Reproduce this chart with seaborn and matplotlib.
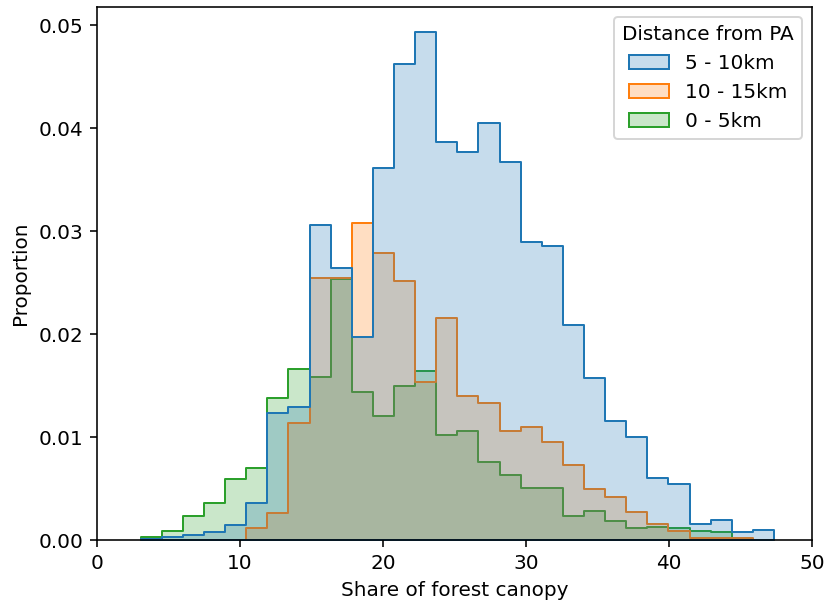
import numpy as np
import pandas as pd
import matplotlib
matplotlib.use("Agg")
import matplotlib.pyplot as plt
import seaborn as sns

# Bin layout (shared by all groups)
bin_start = 3.056
bin_end = 47.34
n_bins = 30

groups = ["5 - 10km", "10 - 15km", "0 - 5km"]

prop_5_10 = [0.0001, 0.0003, 0.0005, 0.0008, 0.00146, 0.00357, 0.01235, 0.0129,
             0.03067, 0.02642, 0.01977, 0.03618, 0.04627, 0.04938, 0.03874, 0.03771,
             0.04059, 0.03673, 0.02895, 0.02862, 0.02091, 0.01579, 0.01161, 0.00999,
             0.00606, 0.00542, 0.00156, 0.0019, 0.00073, 0.00095]
prop_10_15 = [0.0, 0.0, 0.0, 0.0, 0.0, 0.00114, 0.00258, 0.01135,
              0.02551, 0.02551, 0.03083, 0.02794, 0.02516, 0.0154, 0.02162, 0.014,
              0.01335, 0.0106, 0.01102, 0.00955, 0.00729, 0.00496, 0.00418, 0.00272,
              0.00153, 0.0009, 0.0002, 0.0002, 0.00015, 0.0]
prop_0_5 = [0.00026, 0.00088, 0.00233, 0.0036, 0.0059, 0.00703, 0.01378, 0.01663,
            0.01588, 0.02535, 0.01436, 0.01209, 0.01501, 0.01644, 0.01024, 0.0106,
            0.00759, 0.00635, 0.00506, 0.00509, 0.00236, 0.00279, 0.00188, 0.0012,
            0.00129, 0.00114, 0.00085, 0.00075, 0.0, 0.0]

edges = np.linspace(bin_start, bin_end, n_bins + 1)
centers = (edges[:-1] + edges[1:]) / 2

rows = []
for g, vals in zip(groups, [prop_5_10, prop_10_15, prop_0_5]):
    for c, v in zip(centers, vals):
        rows.append({"Share of forest canopy": c, "Distance from PA": g, "w": v})
df = pd.DataFrame(rows)

fig = plt.figure(figsize=(827 / 144, 607 / 144), dpi=144)
ax = fig.add_axes([97 / 827, 1 - 540 / 607, (812 - 97) / 827, (540 - 6.7) / 607])

sns.histplot(data=df, x="Share of forest canopy", hue="Distance from PA",
             weights="w", bins=n_bins, binrange=(bin_start, bin_end),
             element="step", stat="proportion",
             common_norm=True, hue_order=groups, ax=ax)

ax.set_xlim(0, 50)
ax.set_xticks([0, 10, 20, 30, 40, 50])
ax.set_ylabel("Proportion")
ax.set_xlabel("Share of forest canopy")

fig.savefig("out.png", dpi=144)
